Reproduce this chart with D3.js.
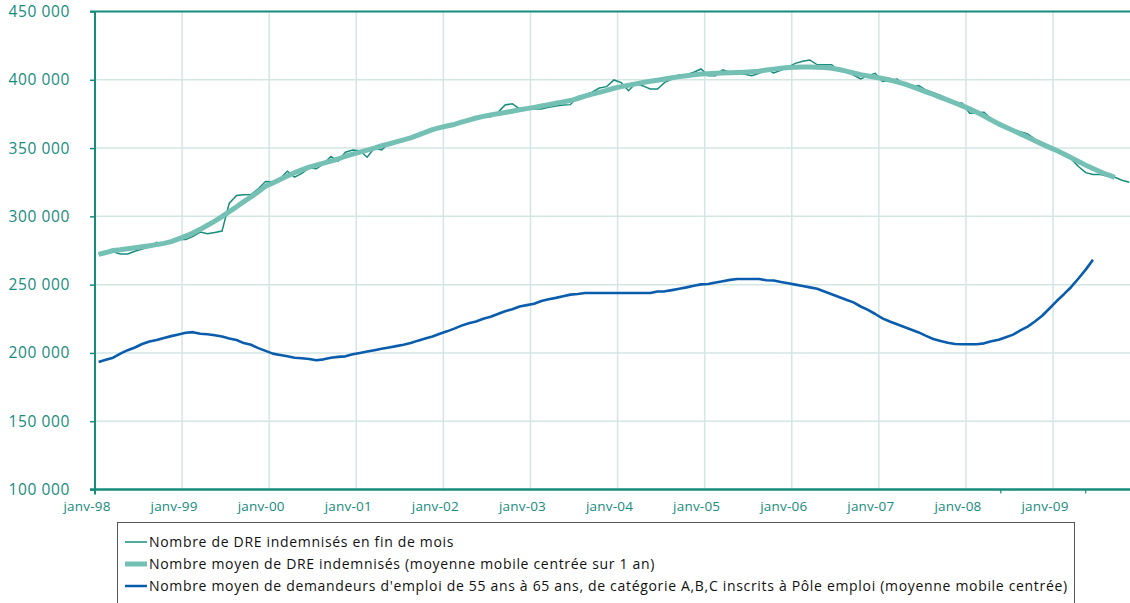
<!DOCTYPE html>
<html>
<head>
<meta charset="utf-8">
<script src="https://cdn.jsdelivr.net/npm/d3@7"></script>
<style>
  body { margin: 0; background: #fff; }
  svg { display: block; font-family: "Open Sans", sans-serif; }
</style>
</head>
<body>
<div id="vis"></div>
<script>
// monthly values, in thousands, starting janv-98
var fin_de_mois = [272.5, 273.5, 274, 272.5, 272.5, 274.5, 276, 277.5, 281, 279.5, 281.5, 283,
    283, 285.3, 288.5, 287.3, 288.2, 289.2, 309.7, 315.3, 315.8, 316, 320.2, 325.5,
    325.3, 327.5, 333, 328.7, 331.5, 335.5, 334.8, 338.5, 343.8, 340.4, 347, 348.5,
    348, 343.3, 350, 348.7, 353.5, 355, 355.5, 357.5, 360, 362, 364.5, 365.5,
    366, 367, 369.5, 371, 372.5, 373.5, 373, 376, 381.5, 382.5, 378.7, 378.7,
    378.7, 378.7, 379.8, 380.8, 381.5, 381.8, 387.7, 389, 391, 394, 395, 399.9,
    398, 392, 397.4, 395.5, 393.3, 393.3, 398.1, 400.5, 403.7, 403.7, 405.5, 407.9,
    403, 403, 407.2, 405.5, 405, 404, 403, 404.7, 407.9, 405, 407, 409.5,
    412, 413.5, 414.5, 411, 411, 411, 406.2, 406.2, 403.5, 400.6, 403, 404.7,
    398.8, 399.5, 400.6, 396, 394.5, 395.7, 392.5, 390.5, 388.5, 386, 383.5, 382.8,
    375.5, 375.8, 376.2, 371, 366.5, 365, 363.5, 362, 360.4, 356.5, 353, 349.4,
    347.5, 345.5, 342.1, 336.5, 332, 330.6, 330.6, 329.6, 328.6, 326.5, 325];

var moyenne_dre = [272.2, 273.5, 275, 275.5, 276.3, 277, 277.8, 278.5, 279.3, 280.2, 281.5, 283.5,
    285.5, 287.8, 290.5, 293.5, 296.5, 299.8, 303.5, 307, 310.8, 314.2, 318, 322,
    324.5, 327, 329.5, 332, 334, 336, 337.5, 339, 340.5, 342, 344, 345.5,
    347, 348.5, 350, 351.8, 353, 354.5, 356, 357.5, 359.5, 361.5, 363.5, 365,
    366.2, 367.3, 369, 370.5, 372, 373.2, 374.2, 375.2, 376, 377, 378, 378.9,
    379.8, 380.8, 381.8, 382.8, 383.8, 384.8, 386.3, 388, 389.5, 390.8, 392.2, 393.8,
    395, 396, 397, 398, 398.9, 399.7, 400.6, 401.5, 402.3, 403, 403.6, 404.2,
    404.5, 404.8, 405, 405.2, 405.4, 405.6, 405.9, 406.3, 407.2, 407.8, 408.4, 409,
    409.2, 409.3, 409.3, 409.2, 409, 408.5, 407.5, 406.3, 405, 403.8, 402.8, 401.8,
    401, 399.8, 398.5, 397, 395.2, 393.2, 391.2, 389.2, 387.1, 385.1, 383, 380.9,
    378.7, 376.2, 373.5, 370.6, 367.7, 365.3, 362.9, 360.4, 357.9, 355.3, 352.9, 350.5,
    348.2, 345.6, 343, 340.2, 337.5, 335, 332.6, 330.5, 328.6];

var demandeurs_55_65 = [193.4, 195, 196.5, 199.5, 202, 204, 206.5, 208.3, 209.5, 211, 212.3, 213.5,
    214.8, 215.2, 214, 213.7, 213, 212, 210.5, 209.5, 207.2, 206, 203.5, 201.5,
    199.5, 198.5, 197.5, 196.5, 196.1, 195.5, 194.7, 195.3, 196.5, 197.1, 197.5, 199,
    200, 201, 202, 203, 204, 205, 206, 207.2, 209, 210.5, 212, 214,
    215.8, 217.8, 220, 221.8, 223, 225, 226.5, 228.5, 230.5, 232, 234, 235,
    236, 238, 239.3, 240.3, 241.5, 242.7, 243.2, 243.9, 243.9, 243.9, 243.9, 243.9,
    243.9, 243.9, 243.9, 243.9, 243.9, 245, 245.1, 246, 247, 248, 249.2, 250.2,
    250.5, 251.5, 252.5, 253.5, 254.1, 254.1, 254.1, 254.1, 253.2, 253, 252, 251,
    250, 249, 248, 247, 245, 243, 241, 239, 237, 234, 231.5, 228.5,
    225.3, 223, 221, 219, 217, 215, 212.5, 210.2, 208.8, 207.5, 206.5, 206.4,
    206.4, 206.4, 207, 208.5, 209.6, 211.5, 213.4, 216.5, 219.3, 223, 227.2, 232.5,
    238, 243, 248.3, 254.5, 261, 268.3];

var yTicks = [100000, 150000, 200000, 250000, 300000, 350000, 400000, 450000];
var xLabels = ["janv-98", "janv-99", "janv-00", "janv-01", "janv-02", "janv-03",
    "janv-04", "janv-05", "janv-06", "janv-07", "janv-08", "janv-09"];
var legendLabels = [
    "Nombre de DRE indemnisés en fin de mois",
    "Nombre moyen de DRE indemnisés (moyenne mobile centrée sur 1 an)",
    "Nombre moyen de demandeurs d'emploi de 55 ans à 65 ans, de catégorie A,B,C inscrits à Pôle emploi (moyenne mobile centrée)"
];

var W = 1130, H = 603;
var teal = "#168c7c", light = "#74c0b4", blue = "#0a5cad", grid = "#d3e6e4";

var svg = d3.select("#vis").append("svg")
    .attr("width", W)
    .attr("height", H);

// month index -> px, 143 months per axis
var x = d3.scaleLinear().domain([0, 143]).range([95, 95 + 143 * 7.258]);
var y = d3.scaleLinear().domain([100000, 450000]).range([489.5, 11.5]);

// grid
svg.append("g").selectAll("line.h")
    .data(yTicks.slice(1, -1))
    .enter().append("line")
    .attr("x1", 95).attr("x2", W)
    .attr("y1", d => y(d)).attr("y2", d => y(d))
    .attr("stroke", grid).attr("stroke-width", 1.5);

svg.append("g").selectAll("line.v")
    .data(xLabels.slice(1))
    .enter().append("line")
    .attr("x1", (d, i) => x((i + 1) * 12)).attr("x2", (d, i) => x((i + 1) * 12))
    .attr("y1", y(450000)).attr("y2", y(100000))
    .attr("stroke", grid).attr("stroke-width", 1.5);

// y axis
var yAxis = svg.append("g")
    .attr("transform", "translate(95,0)")
    .call(d3.axisLeft(y).tickValues(yTicks).tickSize(5)
        .tickFormat(d => d3.format(",")(d).replace(",", " ")));
yAxis.select(".domain").remove();
yAxis.selectAll(".tick line").attr("stroke", teal).attr("stroke-width", 1.5);
yAxis.selectAll("text")
    .attr("x", -25)
    .attr("fill", teal)
    .attr("font-size", 15.5)
    .attr("letter-spacing", 0.6)
    .attr("font-family", "Open Sans, sans-serif");

// frame lines
svg.append("line").attr("x1", 90).attr("x2", W).attr("y1", y(450000)).attr("y2", y(450000))
    .attr("stroke", teal).attr("stroke-width", 2);
svg.append("line").attr("x1", 95).attr("x2", 95).attr("y1", y(450000)).attr("y2", y(100000) + 5)
    .attr("stroke", teal).attr("stroke-width", 2);
svg.append("line").attr("x1", 90).attr("x2", W).attr("y1", y(100000)).attr("y2", y(100000))
    .attr("stroke", teal).attr("stroke-width", 2.5);

// x axis minor ticks
svg.append("g").selectAll("line")
    .data([124.8, 136.5])
    .enter().append("line")
    .attr("x1", d => x(d)).attr("x2", d => x(d))
    .attr("y1", y(100000)).attr("y2", y(100000) + 4)
    .attr("stroke", teal).attr("stroke-width", 1.2);

svg.append("g").selectAll("text")
    .data(xLabels)
    .enter().append("text")
    .attr("x", (d, i) => x(i * 12) - 8)
    .attr("y", 511)
    .attr("text-anchor", "middle")
    .attr("fill", teal)
    .attr("font-size", 13.5)
    .attr("letter-spacing", 0.2)
    .text(d => d);

// lines
var clip = svg.append("defs").append("clipPath").attr("id", "clip")
    .append("rect").attr("x", 95).attr("y", 0).attr("width", W - 95).attr("height", 490);

var line = d3.line()
    .x((d, i) => x(i + 0.5))
    .y(d => y(d * 1000));

var plot = svg.append("g").attr("clip-path", "url(#clip)");

plot.append("path").datum(demandeurs_55_65)
    .attr("d", line).attr("fill", "none")
    .attr("stroke", blue).attr("stroke-width", 2.6).attr("stroke-linejoin", "round");

plot.append("path").datum(fin_de_mois)
    .attr("d", line).attr("fill", "none")
    .attr("stroke", teal).attr("stroke-width", 1.5);

plot.append("path").datum(moyenne_dre)
    .attr("d", line).attr("fill", "none")
    .attr("stroke", light).attr("stroke-width", 5).attr("stroke-linejoin", "round");

// legend
var lg = svg.append("g");
lg.append("rect").attr("x", 117.5).attr("y", 522.5).attr("width", 957).attr("height", 100)
    .attr("fill", "none").attr("stroke", "#555").attr("stroke-width", 1);

var lgStyles = [[teal, 1.5], [light, 5], [blue, 2.5]];
var rows = lg.selectAll("g.row")
    .data(legendLabels)
    .enter().append("g")
    .attr("transform", (d, i) => "translate(0," + (542 + i * 22) + ")");
rows.append("line")
    .attr("x1", 125).attr("x2", 147)
    .attr("stroke", (d, i) => lgStyles[i][0])
    .attr("stroke-width", (d, i) => lgStyles[i][1]);
rows.append("text")
    .attr("x", 149).attr("dy", "0.35em")
    .attr("font-size", 14)
    .attr("letter-spacing", 0.68)
    .attr("fill", "#111")
    .text(d => d);
</script>
</body>
</html>
